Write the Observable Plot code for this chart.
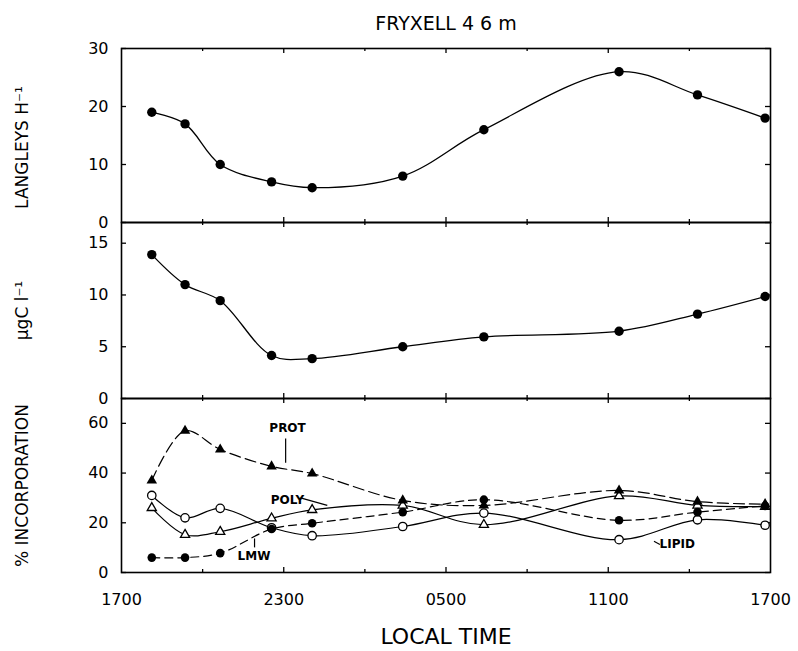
<!DOCTYPE html>
<html><head><meta charset="utf-8">
<script src="https://cdn.jsdelivr.net/npm/d3@7"></script>
<script src="https://cdn.jsdelivr.net/npm/@observablehq/plot@0.6"></script>
<style>
body{margin:0;background:#fff;}
#chart{position:relative;width:798px;height:651px;font-family:"DejaVu Sans",sans-serif;}
#chart svg{position:absolute;left:0;}
</style></head><body><div id="chart"></div>
<script>
// sampling times, hours after 1700 local time
const hours = [1.12, 2.35, 3.65, 5.55, 7.05, 10.4, 13.4, 18.4, 21.3, 23.8];
// top panel: light, langleys per hour
const langleys = [19, 17, 10, 7, 6, 8, 16, 26, 22, 18];
// middle panel: ugC per litre
const ugC = [13.9, 11.0, 9.45, 4.15, 3.85, 5.0, 5.95, 6.5, 8.15, 9.85];
// bottom panel: % incorporation
const prot  = [37, 57, 49.5, 42.7, 39.8, 29, 27, 33, 28.5, 27.5];
const poly  = [26, 15.2, 16.4, 21.8, 25.2, 27, 19.2, 30.8, 27, 26.5];
const lipid = [31, 22, 25.8, 18, 14.8, 18.5, 23.9, 13.2, 21.2, 19];
const lmw   = [6, 6, 7.8, 17.5, 19.8, 24.3, 29.3, 21, 24.3, 26.8];

const xTickHours = [0, 6, 12, 18, 24];
const xTickLabels = ["1700", "2300", "0500", "1100", "1700"];
const xMajor = [6, 12, 18];
const xMinor = [3, 9, 15, 21];
const yTicksTop = [0, 10, 20, 30];
const yTicksMid = [0, 5, 10, 15];
const yTicksBot = [0, 20, 40, 60];

// annotation labels (hours, value) in the bottom panel
const annoLabels = ["PROT", "POLY", "LMW", "LIPID"];
const annoH = [6.14, 6.14, 4.9, 20.55];
const annoV = [58.2, 29.2, 6.5, 11.3];
const leaderH1 = [6.07, 6.62, 4.92, 19.69];
const leaderV1 = [53.9, 30.0, 13.7, 12.6];
const leaderH2 = [6.07, 7.61, 4.92, 19.91];
const leaderV2 = [44.2, 27.0, 10.1, 11.3];

const W = 798, ML = 121, MR = 28, innerW = W - ML - MR;
const FONT = "DejaVu Sans, sans-serif";
const tickMap = new Map(xTickHours.map((h, i) => [h, xTickLabels[i]]));
const rows = vals => hours.map((h, i) => ({h, v: vals[i]}));

function frameTicks(innerH, yTicks) {
  const s = {stroke: "black", strokeWidth: 1.3};
  return [
    Plot.tickX(xMajor, {x: d => d, insetTop: innerH - 5, ...s}),
    Plot.tickX(xMajor, {x: d => d, insetBottom: innerH - 5, ...s}),
    Plot.tickX(xMinor, {x: d => d, insetTop: innerH - 3, ...s}),
    Plot.tickX(xMinor, {x: d => d, insetBottom: innerH - 3, ...s}),
    Plot.tickY(yTicks, {y: d => d, insetRight: innerW - 5, ...s}),
    Plot.tickY(yTicks, {y: d => d, insetLeft: innerW - 5, ...s}),
    Plot.frame({stroke: "black", strokeWidth: 1.6})
  ];
}
const style = {background: "transparent", overflow: "visible", fontFamily: FONT, fontSize: "16px", color: "black"};

function yAxis(ticks) {
  return Plot.axisY({ticks, tickSize: 0, tickPadding: 13, label: null, fontSize: 16});
}
function yLabel(t, dy) {
  return Plot.text([t], {text: d => d, frameAnchor: "left", dx: -99, dy, rotate: -90, fontSize: 17, textAnchor: "middle", lineAnchor: "middle", fill: "black"});
}

// ---- top panel
const p1 = Plot.plot({
  width: W, height: 226, marginLeft: ML, marginRight: MR, marginTop: 48, marginBottom: 4,
  x: {domain: [0, 24], axis: null}, y: {domain: [0, 30], axis: null}, style,
  marks: [
    ...frameTicks(174, yTicksTop),
    yAxis(yTicksTop),
    yLabel("LANGLEYS H\u207B\u00B9", 12),
    Plot.text(["FRYXELL 4 6 m"], {text: d => d, frameAnchor: "top", dy: -24.5, fontSize: 19, lineAnchor: "middle", fill: "black"}),
    Plot.line(rows(langleys), {x: "h", y: "v", curve: "catmull-rom", stroke: "black", strokeWidth: 1.3}),
    Plot.dot(rows(langleys), {x: "h", y: "v", r: 4.7, fill: "black"})
  ]
});
p1.style.top = "0px";

// ---- middle panel
const p2 = Plot.plot({
  width: W, height: 190, marginLeft: ML, marginRight: MR, marginTop: 10, marginBottom: 4,
  x: {domain: [0, 24], axis: null}, y: {domain: [0, 17], axis: null}, style,
  marks: [
    ...frameTicks(176, yTicksMid),
    yAxis(yTicksMid),
    yLabel("\u03BCgC l\u207B\u00B9", 0),
    Plot.line(rows(ugC), {x: "h", y: "v", curve: "catmull-rom", stroke: "black", strokeWidth: 1.3}),
    Plot.dot(rows(ugC), {x: "h", y: "v", r: 4.7, fill: "black"})
  ]
});
p2.style.top = "212px";

// ---- bottom panel
const annos = annoLabels.map((t, i) => ({t, h: annoH[i], v: annoV[i], h1: leaderH1[i], v1: leaderV1[i], h2: leaderH2[i], v2: leaderV2[i]}));
const p3 = Plot.plot({
  width: W, height: 263, marginLeft: ML, marginRight: MR, marginTop: 10, marginBottom: 79,
  x: {domain: [0, 24], axis: null}, y: {domain: [0, 70], axis: null}, style,
  marks: [
    ...frameTicks(174, yTicksBot),
    yAxis(yTicksBot),
    yLabel("% INCORPORATION", 0),
    Plot.axisX({ticks: xTickHours, tickFormat: d => tickMap.get(d), tickSize: 0, tickPadding: 21, fontSize: 16, label: null}),
    Plot.text(["LOCAL TIME"], {text: d => d, frameAnchor: "bottom", dy: 64, fontSize: 22, lineAnchor: "middle", fill: "black"}),
    Plot.line(rows(poly),  {x: "h", y: "v", curve: "catmull-rom", stroke: "black", strokeWidth: 1.2}),
    Plot.line(rows(lipid), {x: "h", y: "v", curve: "catmull-rom", stroke: "black", strokeWidth: 1.2}),
    Plot.line(rows(prot),  {x: "h", y: "v", curve: "catmull-rom", stroke: "black", strokeWidth: 1.2, strokeDasharray: "11,5"}),
    Plot.line(rows(lmw),   {x: "h", y: "v", curve: "catmull-rom", stroke: "black", strokeWidth: 1.2, strokeDasharray: "8,5"}),
    Plot.dot(rows(poly),  {x: "h", y: "v", symbol: "triangle", r: 3.4, fill: "white", stroke: "black", strokeWidth: 1.3}),
    Plot.dot(rows(lipid), {x: "h", y: "v", r: 4.2, fill: "white", stroke: "black", strokeWidth: 1.3}),
    Plot.dot(rows(prot),  {x: "h", y: "v", symbol: "triangle", r: 3.9, fill: "black"}),
    Plot.dot(rows(lmw),   {x: "h", y: "v", r: 4.3, fill: "black"}),
    Plot.link(annos, {x1: "h1", y1: "v1", x2: "h2", y2: "v2", stroke: "black", strokeWidth: 1.2}),
    Plot.text(annos, {x: "h", y: "v", text: "t", fontSize: 12, fontWeight: "bold", fill: "black", lineAnchor: "middle"})
  ]
});
p3.style.top = "388px";

const chart = document.getElementById("chart");
chart.append(p1, p2, p3);
</script>
</body></html>
